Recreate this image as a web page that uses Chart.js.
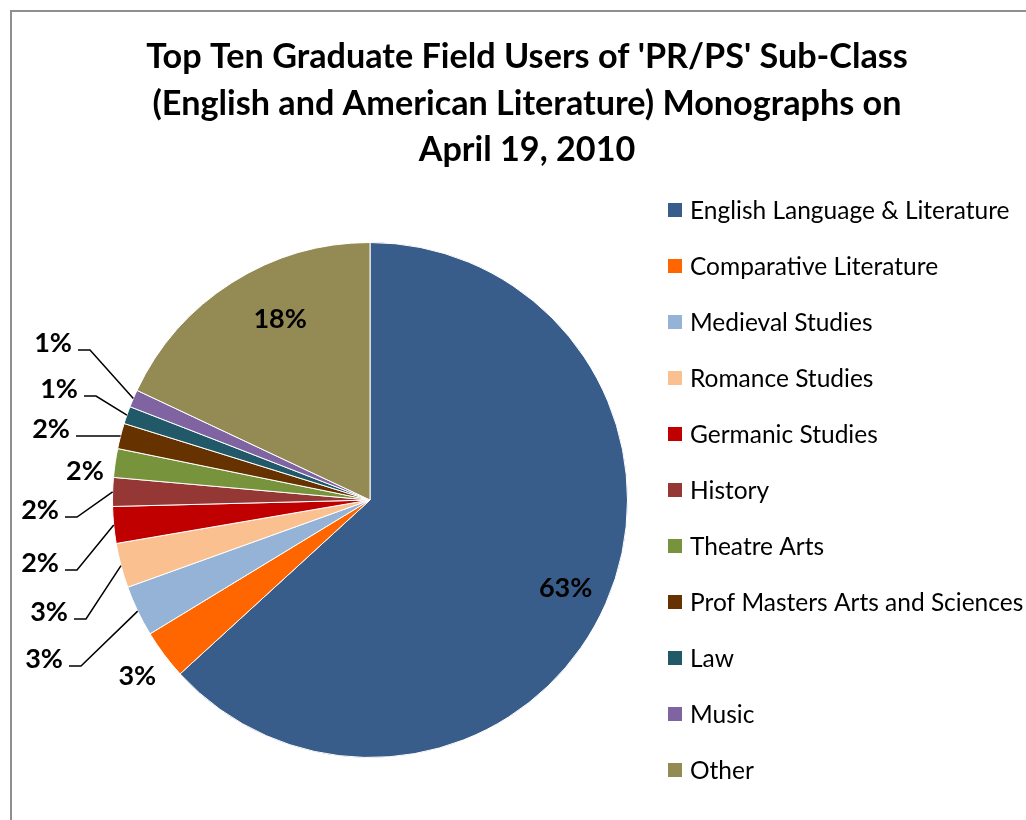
<!DOCTYPE html>
<html><head><meta charset="utf-8">
<script src="https://cdn.jsdelivr.net/npm/chart.js@4/dist/chart.umd.min.js"></script>
<style>html,body{margin:0;padding:0;background:#fff}#wrap{width:1026px;height:820px;position:relative}</style>
</head><body><div id="wrap"><canvas id="c"></canvas></div>
<script>
// ---- data ----
const categories = ["English Language & Literature","Comparative Literature","Medieval Studies","Romance Studies","Germanic Studies","History","Theatre Arts","Prof Masters Arts and Sciences","Law","Music","Other"];
const shares = [63.2,3.1,3.2,2.8,2.3,1.8,1.8,1.6,1.1,1.1,18.0];
const sliceColors = ["#385D8A","#FF6600","#95B3D7","#FAC090","#C00000","#953735","#77933C","#663300","#215968","#8064A2","#948A54"];
const titleLines = ["Top Ten Graduate Field Users of 'PR/PS' Sub-Class","(English and American Literature) Monographs on","April 19, 2010"];

// ---- label layout (style, not data) ----
const labelPlacement = [
  {mode:'in', r:0.83},
  {mode:'out', r:1.13},
  {mode:'callout', x:63, y:659},
  {mode:'callout', x:68, y:612},
  {mode:'callout', x:59, y:563},
  {mode:'callout', x:59, y:510},
  {mode:'free', x:85, y:471},
  {mode:'callout', x:70, y:429, straight:true},
  {mode:'callout', x:78, y:389},
  {mode:'callout', x:72, y:343},
  {mode:'in', r:0.84, dx:26}
];
const FONT = "Lato, 'Open Sans', sans-serif";

const deco = {
  id:'deco',
  beforeDraw(chart){
    const ctx = chart.ctx;
    ctx.save();
    ctx.fillStyle = '#fff';
    ctx.fillRect(0,0,chart.width,chart.height);
    ctx.strokeStyle = '#8f8f8f';
    ctx.lineWidth = 2;
    ctx.strokeRect(11,11,chart.width+40,chart.height+40);
    // title
    ctx.fillStyle = '#000';
    ctx.font = "bold 34.2px " + FONT;
    ctx.textAlign = 'center';
    ctx.textBaseline = 'middle';
    titleLines.forEach((t,i)=>ctx.fillText(t, 527, 57 + i*46.5));
    // legend
    ctx.font = "24.5px " + FONT;
    ctx.textAlign = 'left';
    const labels = chart.data.labels;
    const cols = chart.data.datasets[0].backgroundColor;
    labels.forEach((lab,i)=>{
      const y = 210 + i*56;
      ctx.fillStyle = cols[i];
      ctx.fillRect(668, y-7, 14, 14);
      ctx.fillStyle = '#000';
      ctx.fillText(lab, 690, y+1);
    });
    ctx.restore();
  },
  afterDatasetsDraw(chart){
    const ctx = chart.ctx;
    const meta = chart.getDatasetMeta(0);
    const data = chart.data.datasets[0].data;
    const total = data.reduce((a,b)=>a+b,0);
    ctx.save();
    ctx.font = "bold 27px " + FONT;
    ctx.fillStyle = '#000';
    ctx.strokeStyle = '#000';
    ctx.lineWidth = 1.5;
    ctx.textBaseline = 'middle';
    meta.data.forEach((arc,i)=>{
      const p = arc.getProps(['x','y','startAngle','endAngle','outerRadius'], true);
      const mid = (p.startAngle + p.endAngle)/2;
      const txt = Math.round(data[i]/total*100) + '%';
      const L = labelPlacement[i];
      if (L.mode==='in' || L.mode==='out'){
        const r = p.outerRadius*L.r;
        ctx.textAlign='center';
        ctx.fillText(txt, p.x + Math.cos(mid)*r + (L.dx||0), p.y + Math.sin(mid)*r + 2);
      } else if (L.mode==='free'){
        ctx.textAlign='center';
        ctx.fillText(txt, L.x, L.y);
      } else {
        ctx.textAlign='right';
        ctx.fillText(txt, L.x, L.y);
        const ax = p.x + Math.cos(mid)*p.outerRadius;
        const ay = p.y + Math.sin(mid)*p.outerRadius;
        ctx.beginPath();
        ctx.moveTo(L.x+6, L.y+7);
        if (!L.straight) ctx.lineTo(L.x+18, L.y+7);
        ctx.lineTo(ax, ay);
        ctx.stroke();
      }
    });
    ctx.restore();
  }
};

new Chart(document.getElementById('c'), {
  type:'pie',
  data:{ labels:categories, datasets:[{ data:shares, backgroundColor:sliceColors, borderColor:'#ffffff', borderWidth:1 }]},
  options:{
    responsive:true, maintainAspectRatio:false, animation:false,
    layout:{ padding:{ left:112, top:242, right:398, bottom:62 } },
    plugins:{ legend:{display:false}, title:{display:false}, tooltip:{enabled:false} }
  },
  plugins:[deco]
});
</script></body></html>
